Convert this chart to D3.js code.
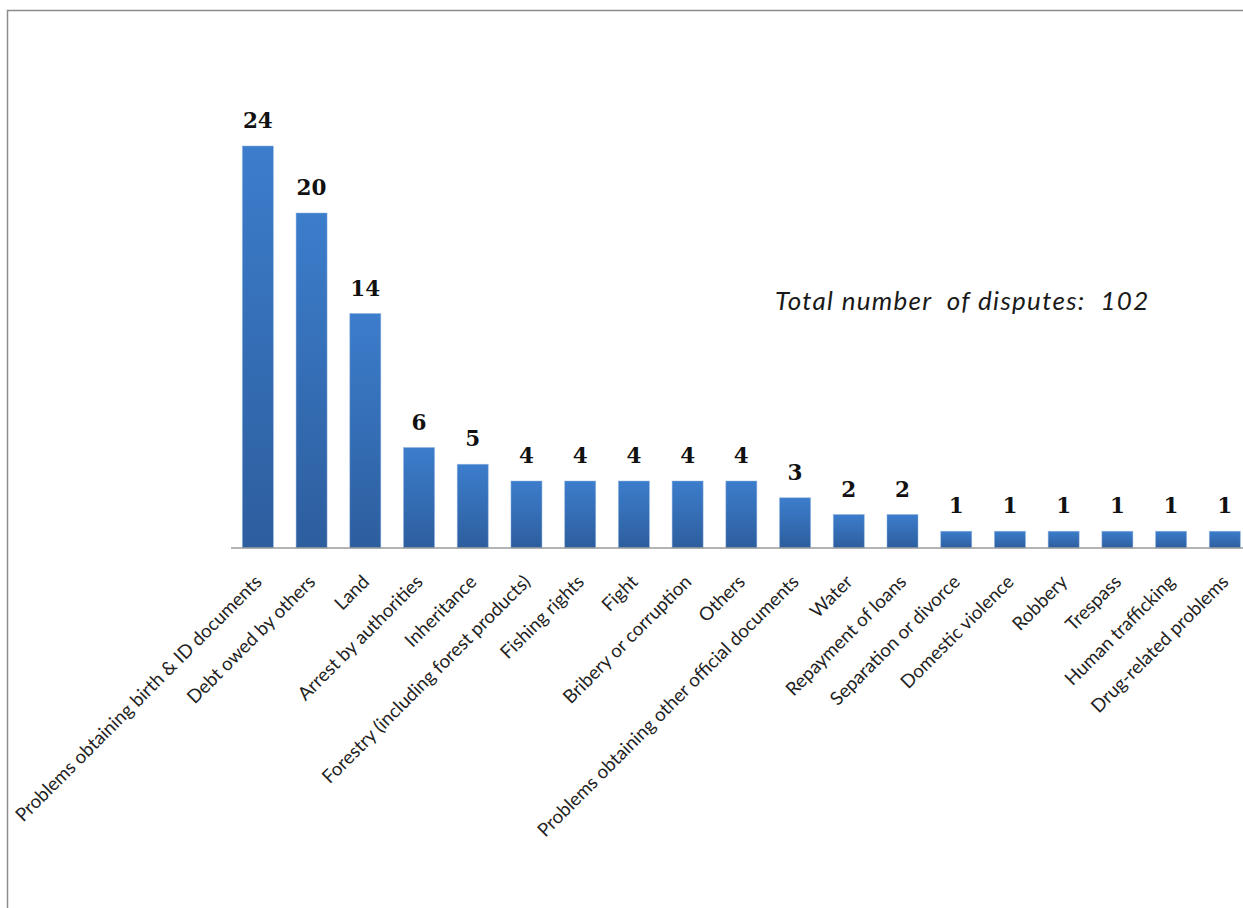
<!DOCTYPE html>
<html>
<head>
<meta charset="utf-8">
<script src="https://cdn.jsdelivr.net/npm/d3@7/dist/d3.min.js"></script>
<style>
  html, body { margin: 0; padding: 0; background: #ffffff; }
  svg { display: block; }
</style>
</head>
<body>
<svg id="chart" width="1243" height="908"></svg>
<script>
// Dispute categories and their counts
const categories = [
  "Problems obtaining birth & ID documents",
  "Debt owed by others",
  "Land",
  "Arrest by authorities",
  "Inheritance",
  "Forestry (including forest products)",
  "Fishing rights",
  "Fight",
  "Bribery or corruption",
  "Others",
  "Problems obtaining other official documents",
  "Water",
  "Repayment of loans",
  "Separation or divorce",
  "Domestic violence",
  "Robbery",
  "Trespass",
  "Human trafficking",
  "Drug-related problems"
];
const counts = [24, 20, 14, 6, 5, 4, 4, 4, 4, 4, 3, 2, 2, 1, 1, 1, 1, 1, 1];
const totalLabel = "Total number\u00a0 of disputes:\u00a0 102";

const svg = d3.select("#chart");

// Chart frame
svg.append("rect")
  .attr("x", 7.5).attr("y", 10.5)
  .attr("width", 1300).attr("height", 1000)
  .attr("fill", "#ffffff")
  .attr("stroke", "#8c8c8c")
  .attr("stroke-width", 1.5);

// Vertical gradient for the bars
const defs = svg.append("defs");
const grad = defs.append("linearGradient")
  .attr("id", "barGrad")
  .attr("x1", 0).attr("y1", 0).attr("x2", 0).attr("y2", 1);
grad.append("stop").attr("offset", "0%").attr("stop-color", "#3c7dcc");
grad.append("stop").attr("offset", "100%").attr("stop-color", "#2d5e9e");

const baseY = 548;
const step = 53.72;
const x = d3.scaleBand()
  .domain(categories)
  .range([231, 231 + step * categories.length])
  .paddingInner(0.423)
  .paddingOuter(0.2115);

const y = d3.scaleLinear()
  .domain([0, 24])
  .range([baseY, 146]);

const data = categories.map((c, i) => ({ cat: c, value: counts[i] }));

// Bars
svg.append("g")
  .selectAll("rect")
  .data(data)
  .join("rect")
  .attr("x", d => x(d.cat))
  .attr("y", d => y(d.value))
  .attr("width", x.bandwidth())
  .attr("height", d => baseY - y(d.value))
  .attr("fill", "url(#barGrad)")
  .attr("stroke", "#8fb3e0")
  .attr("stroke-opacity", 0.6)
  .attr("stroke-width", 0.8);

// Category axis
const xAxis = d3.axisBottom(x).tickSize(0).tickPadding(0);
const axisG = svg.append("g")
  .attr("transform", `translate(0,${baseY})`)
  .call(xAxis);
axisG.select(".domain")
  .attr("d", `M231,0H1260`)
  .attr("stroke", "#9a9a9a")
  .attr("stroke-width", 1.6);
axisG.selectAll(".tick text")
  .attr("font-family", "Lato, 'Open Sans', sans-serif")
  .attr("font-size", 18.7)
  .attr("fill", "#222222")
  .attr("text-anchor", "end")
  .attr("dy", null)
  .attr("y", null)
  .attr("transform", "translate(5,35) rotate(-45)");

// Value labels above bars
svg.append("g")
  .selectAll("text")
  .data(data)
  .join("text")
  .attr("x", d => x(d.cat) + x.bandwidth() / 2)
  .attr("y", d => y(d.value) - 18)
  .attr("text-anchor", "middle")
  .attr("font-family", "'DejaVu Serif', serif")
  .attr("font-weight", "bold")
  .attr("font-size", 21.5)
  .attr("fill", "#111111")
  .text(d => d.value);

// Total annotation
svg.append("text")
  .attr("x", 775)
  .attr("y", 310)
  .attr("font-family", "Lato, 'Open Sans', sans-serif")
  .attr("font-style", "italic")
  .attr("font-size", 26)
  .attr("letter-spacing", 1.3)
  .attr("fill", "#1a1a1a")
  .text(totalLabel);
</script>
</body>
</html>
